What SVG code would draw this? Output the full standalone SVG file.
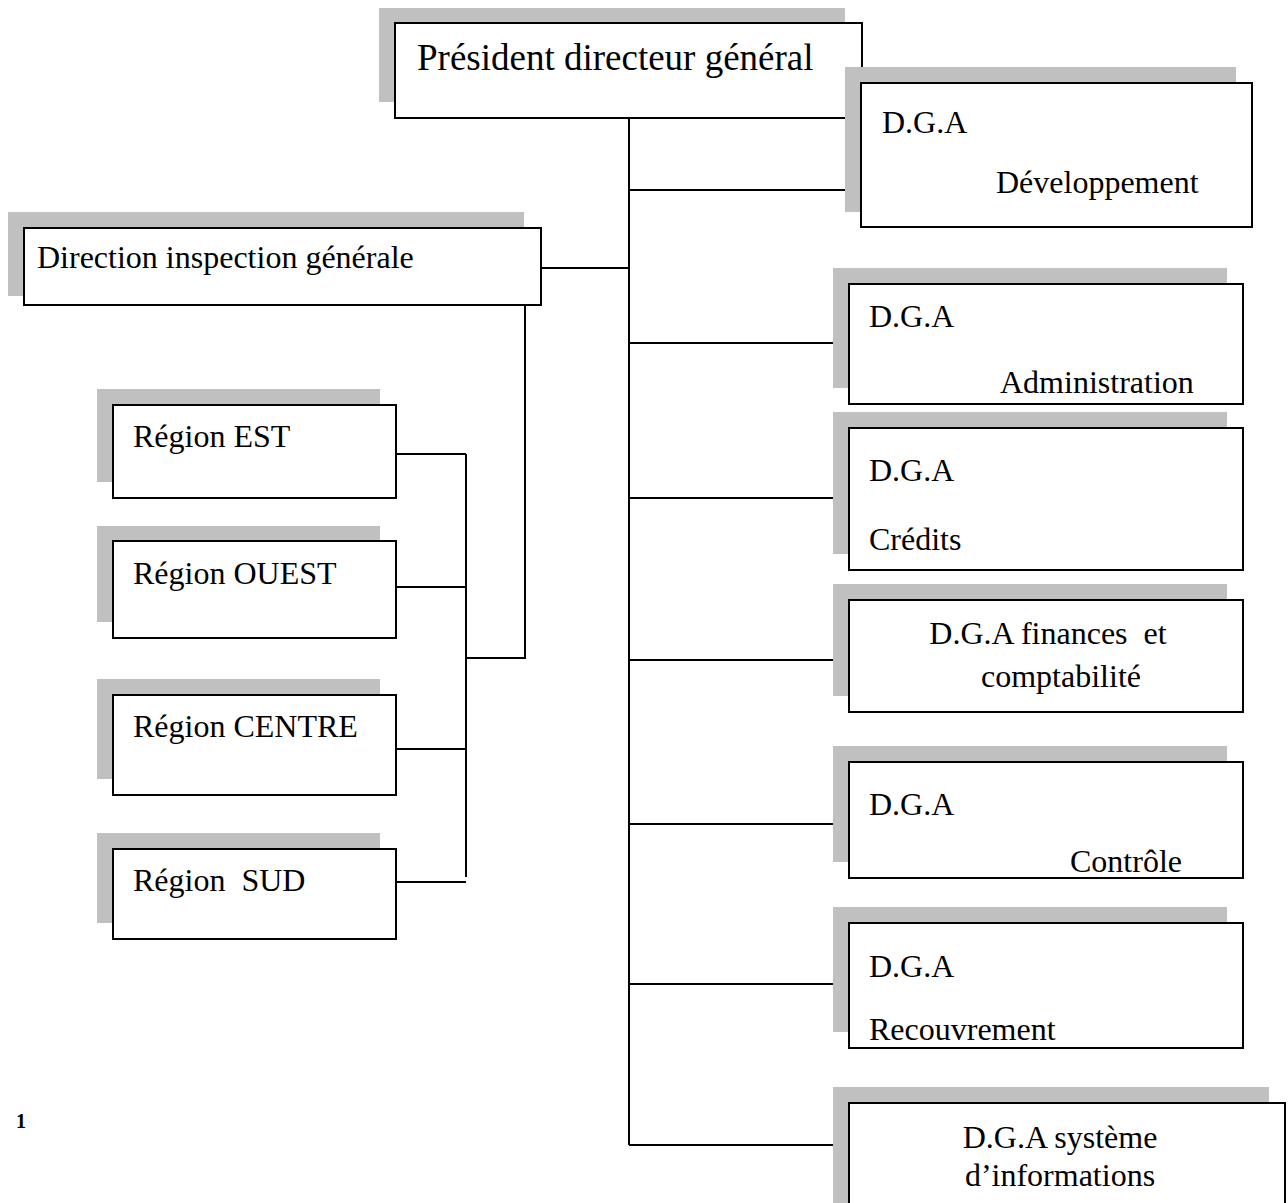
<svg xmlns="http://www.w3.org/2000/svg" width="1288" height="1203" viewBox="0 0 1288 1203">
  <style>
    .shadow { fill: #c0c0c0; }
    .box { fill: #ffffff; stroke: #000000; stroke-width: 2; }
    .label { font-family: "Liberation Serif", "Times New Roman", serif; font-size: 32px; fill: #000000; }
    .big { font-size: 37px; }
    .mid { text-anchor: middle; }
    .wire { fill: none; stroke: #000000; stroke-width: 2; }
  </style>
  <rect width="1288" height="1203" fill="#ffffff"/>

  <!-- connectors -->
  <g id="connectors">
    <!-- main trunk -->
    <path class="wire" d="M629 118 V1145"/>
    <path class="wire" d="M629 118 H861"/>
    <path class="wire" d="M629 190 H849"/>
    <path class="wire" d="M541 268 H629"/>
    <path class="wire" d="M629 343 H849"/>
    <path class="wire" d="M629 498 H849"/>
    <path class="wire" d="M629 660 H849"/>
    <path class="wire" d="M629 824 H849"/>
    <path class="wire" d="M629 984 H849"/>
    <path class="wire" d="M629 1145 H849"/>
    <!-- inspection to regions -->
    <path class="wire" d="M525 305 V658 H466"/>
    <path class="wire" d="M466 454 V877"/>
    <path class="wire" d="M396 454 H466"/>
    <path class="wire" d="M396 587 H466"/>
    <path class="wire" d="M396 749 H466"/>
    <path class="wire" d="M396 882 H466"/>
  </g>

  <g id="pdg">
    <rect class="shadow" x="379" y="8" width="466" height="94"/>
    <rect class="box" x="395" y="23" width="467" height="95"/>
    <text class="label big" x="417" y="70">Président directeur général</text>
  </g>

  <g id="dga-developpement">
    <rect class="shadow" x="845" y="67" width="391" height="145"/>
    <rect class="box" x="861" y="83" width="391" height="144"/>
    <text class="label" x="882" y="133">D.G.A</text>
    <text class="label" x="996" y="193">Développement</text>
  </g>

  <g id="direction-inspection">
    <rect class="shadow" x="8" y="212" width="516" height="84"/>
    <rect class="box" x="24" y="228" width="517" height="77"/>
    <text class="label" x="37" y="268">Direction inspection générale</text>
  </g>

  <g id="region-est">
    <rect class="shadow" x="97" y="389" width="283" height="93"/>
    <rect class="box" x="113" y="405" width="283" height="93"/>
    <text class="label" x="133" y="447">Région EST</text>
  </g>

  <g id="region-ouest">
    <rect class="shadow" x="97" y="526" width="283" height="96"/>
    <rect class="box" x="113" y="541" width="283" height="97"/>
    <text class="label" x="133" y="584">Région OUEST</text>
  </g>

  <g id="region-centre">
    <rect class="shadow" x="97" y="679" width="283" height="100"/>
    <rect class="box" x="113" y="695" width="283" height="100"/>
    <text class="label" x="133" y="737">Région CENTRE</text>
  </g>

  <g id="region-sud">
    <rect class="shadow" x="97" y="833" width="283" height="90"/>
    <rect class="box" x="113" y="849" width="283" height="90"/>
    <text class="label" x="133" y="891" xml:space="preserve">Région  SUD</text>
  </g>

  <g id="dga-administration">
    <rect class="shadow" x="833" y="268" width="394" height="120"/>
    <rect class="box" x="849" y="284" width="394" height="120"/>
    <text class="label" x="869" y="327">D.G.A</text>
    <text class="label" x="1000" y="393">Administration</text>
  </g>

  <g id="dga-credits">
    <rect class="shadow" x="833" y="412" width="394" height="142"/>
    <rect class="box" x="849" y="428" width="394" height="142"/>
    <text class="label" x="869" y="481">D.G.A</text>
    <text class="label" x="869" y="550">Crédits</text>
  </g>

  <g id="dga-finances">
    <rect class="shadow" x="833" y="584" width="394" height="112"/>
    <rect class="box" x="849" y="600" width="394" height="112"/>
    <text class="label mid" x="1048" y="644" xml:space="preserve">D.G.A finances  et</text>
    <text class="label mid" x="1061" y="687">comptabilité</text>
  </g>

  <g id="dga-controle">
    <rect class="shadow" x="833" y="746" width="394" height="116"/>
    <rect class="box" x="849" y="762" width="394" height="116"/>
    <text class="label" x="869" y="815">D.G.A</text>
    <text class="label" x="1070" y="872">Contrôle</text>
  </g>

  <g id="dga-recouvrement">
    <rect class="shadow" x="833" y="907" width="394" height="125"/>
    <rect class="box" x="849" y="923" width="394" height="125"/>
    <text class="label" x="869" y="977">D.G.A</text>
    <text class="label" x="869" y="1040">Recouvrement</text>
  </g>

  <g id="dga-systeme">
    <rect class="shadow" x="833" y="1087" width="436" height="130"/>
    <rect class="box" x="849" y="1103" width="436" height="120"/>
    <text class="label mid" x="1060" y="1148">D.G.A système</text>
    <text class="label mid" x="1060" y="1186">d’informations</text>
  </g>

  <text x="16" y="1128" font-family="Liberation Serif, serif" font-size="20" font-weight="bold">1</text>
</svg>
